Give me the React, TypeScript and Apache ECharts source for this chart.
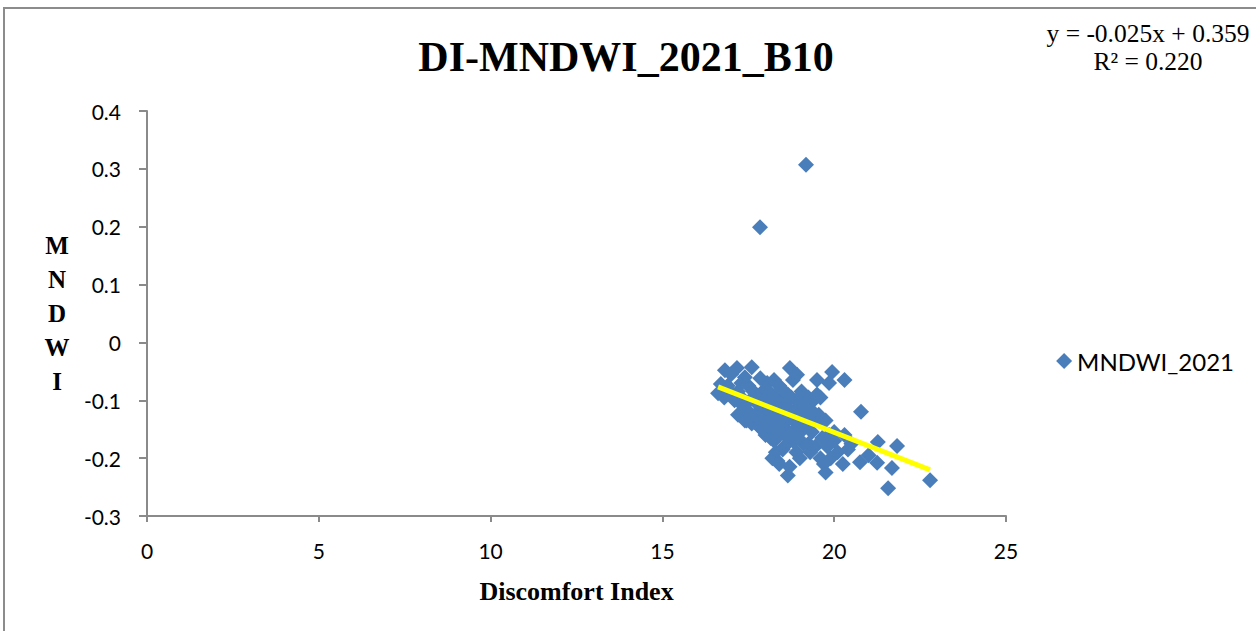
import React, { useEffect, useRef } from "react";
import * as echarts from "echarts";

const title = "DI-MNDWI_2021_B10";
const seriesName = "MNDWI_2021";
const xAxisName = "Discomfort Index";
const yAxisName = "M\nN\nD\nW\nI";
const equationText = "y = -0.025x + 0.359";
const r2Text = "R² = 0.220";

// Discomfort Index values
const diValues: number[] = [
  19.18, 17.84,
  16.82, 17.17, 17.6, 17.0, 17.4, 17.85, 18.05, 18.25, 18.71, 18.92, 18.8, 19.5, 19.94, 20.3, 19.85, 18.4, 17.3, 16.9,
  16.62, 16.7, 16.8, 17.05, 17.2, 17.1, 17.3, 17.35, 17.2, 17.5, 17.6, 17.45, 17.7, 17.55, 17.75, 17.9, 18.0, 18.1, 18.2, 18.3,
  18.45, 18.55, 18.6, 18.75, 18.9, 19.0, 19.1, 19.25, 19.4, 19.5, 19.6, 19.3,
  17.8, 17.9, 18.0, 18.1, 18.2, 18.3, 18.35, 18.5, 18.6, 18.7, 18.8, 18.9, 19.0, 19.1, 19.2, 19.3, 19.4, 19.55, 19.65, 18.25, 18.4, 18.15, 17.95,
  18.3, 18.35, 18.4, 18.5, 18.7, 18.65, 18.8, 18.9, 19.0, 19.1, 19.3, 19.45, 19.6, 19.7, 19.75, 19.8, 19.9, 20.0, 20.1, 20.25, 20.3, 20.0, 19.75, 19.65, 19.85,
  20.4, 20.5, 20.75, 21.0, 21.25, 21.27, 21.83, 21.68, 21.57, 22.79, 20.78,
  17.4, 17.6, 17.8, 17.95, 18.05, 18.15, 18.4, 18.55, 18.45, 18.65, 18.8, 18.95, 19.15, 19.35, 19.25, 18.55, 18.2, 17.85, 18.65, 19.05, 17.65, 17.5, 18.0,
];

// MNDWI values
const mndwiValues: number[] = [
  0.307, 0.199,
  -0.048, -0.044, -0.043, -0.055, -0.06, -0.062, -0.07, -0.065, -0.044, -0.056, -0.065, -0.065, -0.051, -0.065, -0.07, -0.075, -0.07, -0.075,
  -0.088, -0.072, -0.095, -0.09, -0.085, -0.1, -0.095, -0.11, -0.125, -0.12, -0.14, -0.135, -0.125, -0.1, -0.105, -0.09, -0.1, -0.085, -0.1, -0.09,
  -0.1, -0.085, -0.11, -0.095, -0.1, -0.11, -0.1, -0.095, -0.1, -0.09, -0.095, -0.115,
  -0.13, -0.15, -0.16, -0.14, -0.155, -0.13, -0.12, -0.14, -0.15, -0.13, -0.12, -0.14, -0.13, -0.15, -0.12, -0.14, -0.13, -0.125, -0.135, -0.17, -0.16, -0.165, -0.12,
  -0.19, -0.205, -0.21, -0.185, -0.215, -0.23, -0.17, -0.19, -0.2, -0.175, -0.19, -0.18, -0.2, -0.21, -0.225, -0.18, -0.2, -0.17, -0.19, -0.21, -0.16, -0.155, -0.135, -0.165, -0.16,
  -0.185, -0.175, -0.207, -0.195, -0.208, -0.172, -0.179, -0.217, -0.252, -0.238, -0.12,
  -0.135, -0.125, -0.145, -0.14, -0.125, -0.11, -0.115, -0.125, -0.145, -0.165, -0.155, -0.165, -0.14, -0.155, -0.175, -0.18, -0.2, -0.11, -0.09, -0.085, -0.085, -0.075, -0.08,
];

const xTicks = { min: 0, max: 25, interval: 5 };
const yTicks = { min: -0.3, max: 0.4, interval: 0.1 };

function regression(xs: number[], ys: number[]) {
  const n = Math.min(xs.length, ys.length);
  let sx = 0, sy = 0, sxx = 0, sxy = 0;
  for (let i = 0; i < n; i++) {
    sx += xs[i]; sy += ys[i]; sxx += xs[i] * xs[i]; sxy += xs[i] * ys[i];
  }
  const slope = (n * sxy - sx * sy) / (n * sxx - sx * sx);
  const intercept = (sy - slope * sx) / n;
  return { slope, intercept };
}

export default function App() {
  const ref = useRef<HTMLDivElement>(null);
  useEffect(() => {
    if (!ref.current) return;
    const chart = echarts.init(ref.current, undefined, { renderer: "svg" });
    const n = Math.min(diValues.length, mndwiValues.length);
    const points = [];
    for (let i = 0; i < n; i++) points.push([diValues[i], mndwiValues[i]]);
    const { slope, intercept } = regression(diValues, mndwiValues);
    const xMin = Math.min(...diValues);
    const xMax = Math.max(...diValues);
    const trend = [
      [xMin, slope * xMin + intercept],
      [xMax, slope * xMax + intercept],
    ];
    const sans = "Lato, 'Open Sans', sans-serif";
    const serif = "'Liberation Serif', 'DejaVu Serif', serif";
    chart.setOption({
      animation: false,
      backgroundColor: "#ffffff",
      title: {
        text: title,
        left: 621,
        textAlign: "center",
        top: 31,
        textStyle: { fontFamily: serif, fontSize: 42, fontWeight: "bold", color: "#000" },
      },
      grid: { left: 147, right: 250, top: 111, bottom: 115 },
      legend: {
        right: 17,
        top: 344,
        itemWidth: 16,
        itemHeight: 16,
        itemGap: 5,
        data: [{ name: seriesName, icon: "diamond" }],
        textStyle: { fontFamily: sans, fontSize: 24, color: "#000" },
      },
      xAxis: {
        type: "value",
        min: xTicks.min,
        max: xTicks.max,
        interval: xTicks.interval,
        name: xAxisName,
        nameLocation: "middle",
        nameGap: 62,
        nameTextStyle: { fontFamily: serif, fontSize: 26, fontWeight: "bold", color: "#000" },
        axisLine: { onZero: false, lineStyle: { color: "#8a8a8a", width: 2 } },
        axisTick: { show: true, inside: false, length: 6, lineStyle: { color: "#8a8a8a", width: 2 } },
        axisLabel: { margin: 24, fontFamily: sans, fontSize: 21, color: "#000" },
        splitLine: { show: false },
      },
      yAxis: {
        type: "value",
        min: yTicks.min,
        max: yTicks.max,
        interval: yTicks.interval,
        name: yAxisName,
        nameLocation: "middle",
        nameRotate: 0,
        nameGap: 90,
        nameTextStyle: { fontFamily: serif, fontSize: 25, fontWeight: "bold", color: "#000", lineHeight: 34, align: "center" },
        axisLine: { show: true, onZero: false, lineStyle: { color: "#8a8a8a", width: 2 } },
        axisTick: { show: true, inside: false, length: 8, lineStyle: { color: "#8a8a8a", width: 2 } },
        axisLabel: {
          margin: 26,
          fontFamily: sans,
          fontSize: 21,
          color: "#000",
          formatter: (v: number) => String(Math.round(v * 10) / 10),
        },
        splitLine: { show: false },
      },
      graphic: [
        {
          type: "rect",
          shape: { x: 4, y: 8, width: 1400, height: 800 },
          style: { fill: "none", stroke: "#8c8c8c", lineWidth: 2 },
          silent: true,
        },
        {
          type: "text",
          x: 1148,
          y: 33,
          style: { text: equationText, fontFamily: serif, fontSize: 25.5, fill: "#000", align: "center", verticalAlign: "middle" },
        },
        {
          type: "text",
          x: 1148,
          y: 61,
          style: { text: r2Text, fontFamily: serif, fontSize: 25.5, fill: "#000", align: "center", verticalAlign: "middle" },
        },
      ],
      series: [
        {
          name: seriesName,
          type: "scatter",
          symbol: "diamond",
          symbolSize: 16,
          itemStyle: { color: "#4a7ebb", opacity: 1 },
          data: points,
          z: 2,
        },
        {
          name: "trend",
          type: "line",
          data: trend,
          symbol: "none",
          lineStyle: { color: "#ffff00", width: 5 },
          z: 3,
          silent: true,
        },
      ],
    });
    return () => chart.dispose();
  }, []);
  return (
    <div
      ref={ref}
      style={{ position: "fixed", left: 0, top: 0, width: 1256, height: 631 }}
    />
  );
}
